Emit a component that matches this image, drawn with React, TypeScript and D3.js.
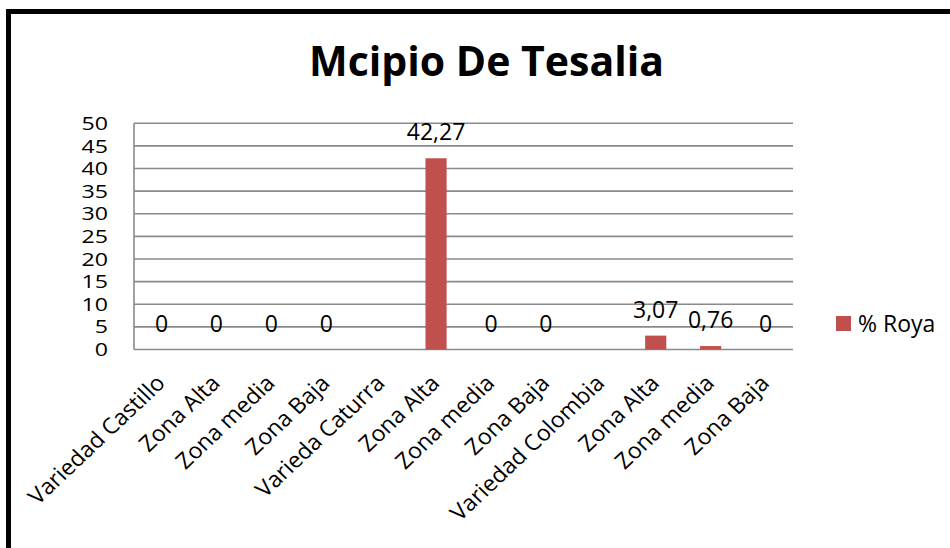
import React from "react";
import * as d3 from "d3";

const categories = [
  "Variedad Castillo", "Zona Alta", "Zona media", "Zona Baja",
  "Varieda Caturra", "Zona Alta", "Zona media", "Zona Baja",
  "Variedad Colombia", "Zona Alta", "Zona media", "Zona Baja",
];
const values: (number | null)[] = [0, 0, 0, 0, null, 42.27, 0, 0, null, 3.07, 0.76, 0];
const valueLabels = ["0", "0", "0", "0", "", "42,27", "0", "0", "", "3,07", "0,76", "0"];
const yTicks = [0, 5, 10, 15, 20, 25, 30, 35, 40, 45, 50];
const seriesName = "% Roya";
const title = "Mcipio De Tesalia";

const W = 950, H = 548;
const plot = { left: 134, right: 793, top: 123.3, bottom: 349.5 };
const FONT = "'Open Sans', 'Noto Sans', sans-serif";
const BAR = "#C0504D";

export default function App() {
  const x = d3.scaleBand<number>()
    .domain(categories.map((_, i) => i))
    .range([plot.left, plot.right])
    .paddingInner(0.615)
    .paddingOuter(0.3075);
  const y = d3.scaleLinear().domain([0, 50]).range([plot.bottom, plot.top]);
  const bw = x.bandwidth();
  const center = (i: number) => (x(i) as number) + bw / 2;

  return (
    <svg width={W} height={H} style={{ position: "fixed", left: 0, top: 0, background: "#fff" }}
      fontFamily={FONT}>
      <rect x={0} y={0} width={W} height={H} fill="#fff" />
      <rect x={8.5} y={11.5} width={W + 20} height={H + 20} fill="none" stroke="#000" strokeWidth={5} />
      <text x={486.5} y={76} textAnchor="middle" fontSize={41} fontWeight="bold" fill="#000">{title}</text>

      {yTicks.map((t) => (
        <g key={t}>
          <line x1={plot.left} x2={plot.right} y1={y(t)} y2={y(t)} stroke="#8a8a8a" strokeWidth={1.6} />
          <text transform={`translate(108,${y(t) + 6.6}) scale(1.25,1)`} textAnchor="end" fontSize={18.5} fill="#000">{t}</text>
        </g>
      ))}
      <line x1={plot.left} x2={plot.left} y1={plot.top} y2={plot.bottom} stroke="#8a8a8a" strokeWidth={1.6} />

      {values.map((v, i) => v === null ? null : (
        <g key={i}>
          {v > 0 && (
            <rect x={x(i)} y={y(v)} width={bw} height={y(0) - y(v)} fill={BAR} />
          )}
          <text x={center(i)} y={y(v) - 18} textAnchor="middle" fontSize={23} fill="#000">{valueLabels[i]}</text>
        </g>
      ))}

      {categories.map((c, i) => (
        <text key={i} textAnchor="end" fontSize={22} fill="#000"
          transform={`translate(${center(i) + 5},${plot.bottom + 35}) scale(1.06,1) rotate(-45)`}>{c}</text>
      ))}

      <rect x={836} y={316} width={15} height={15} fill={BAR} />
      <text x={858} y={331.5} fontSize={23} fill="#000">{seriesName}</text>
    </svg>
  );
}
